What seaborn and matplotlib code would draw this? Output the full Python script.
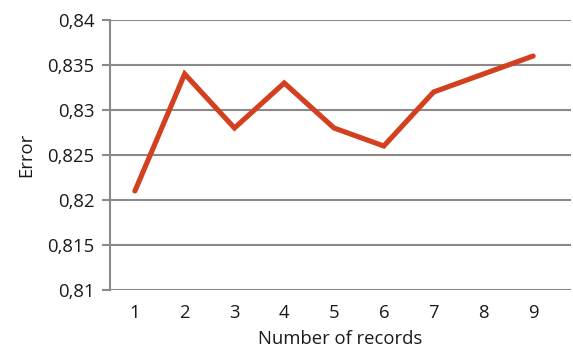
import matplotlib
matplotlib.use("Agg")
import matplotlib.pyplot as plt
import matplotlib.ticker as mticker
import seaborn as sns
import pandas as pd

records = [1, 2, 3, 4, 5, 6, 7, 8, 9]
error = [0.821, 0.834, 0.828, 0.833, 0.828, 0.826, 0.832, 0.834, 0.836]
y_ticks = [0.81, 0.815, 0.82, 0.825, 0.83, 0.835, 0.84]

df = pd.DataFrame({"Number of records": records, "Error": error})

sns.set_theme(style="white")
plt.rcParams["font.family"] = ["Open Sans", "DejaVu Sans"]

fig = plt.figure(figsize=(5.73, 3.48), dpi=100)
ax = fig.add_axes([0.192, 0.1667, 0.8045, 0.7758])

grid_col = "#8a8a8a"
for yv in y_ticks:
    ax.axhline(yv, color=grid_col, lw=1.5, zorder=1)

sns.lineplot(data=df, x="Number of records", y="Error", ax=ax,
             color="#D3401F", lw=3.7, zorder=3,
             solid_capstyle="round", solid_joinstyle="miter")

ax.set_xlim(0.5, 9.76)
ax.set_ylim(0.81, 0.84)
ax.set_yticks(y_ticks)
ax.set_xticks(records)
ax.yaxis.set_major_formatter(mticker.FuncFormatter(
    lambda v, p: f"{v:g}".replace(".", ",")))

for s in ["top", "right", "bottom"]:
    ax.spines[s].set_visible(False)
ax.spines["left"].set_color(grid_col)
ax.spines["left"].set_linewidth(1.5)
ax.spines["left"].set_zorder(2)

fs = 13.3
ax.tick_params(axis="y", which="both", left=True, length=6, width=1.5,
               color=grid_col, labelsize=fs, pad=5, labelcolor="#1a1a1a")
ax.tick_params(axis="x", bottom=False, labelsize=fs, pad=4, labelcolor="#1a1a1a")

ax.set_xlabel("Number of records", fontsize=fs, color="#1a1a1a", labelpad=6)
ax.set_ylabel("Error", fontsize=fs, color="#1a1a1a", labelpad=9)

fig.savefig("out.png", dpi=100)
